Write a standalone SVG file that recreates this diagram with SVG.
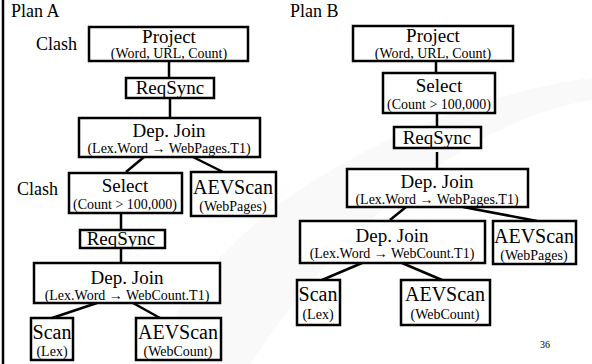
<svg xmlns="http://www.w3.org/2000/svg" width="592" height="364" viewBox="0 0 592 364">
<style>
.box{fill:#fff;stroke:#000;stroke-width:2.5}
.ln{stroke:#000;stroke-width:2.5;fill:none}
text{fill:#000;text-anchor:middle}
.t{font-size:19px}
.tb{font-size:20px}
.s{font-size:14px}
.lab{font-size:18px;text-anchor:start}
</style>
<rect x="0" y="0" width="592" height="364" fill="#fff"/>
<path d="M150,364 C200,250 300,170 460,110 C520,90 570,80 592,78 L592,100 C520,110 380,170 250,364 Z" fill="#f9f9f9"/>
<line x1="3" y1="0" x2="3" y2="364" stroke="#000" stroke-width="2.5"/>
<g font-family="'Liberation Serif', 'DejaVu Serif', 'Noto Serif', Times, serif">
<text class="lab" x="11" y="17">Plan A</text>
<text class="lab" x="290" y="17">Plan B</text>
<text class="lab" x="36" y="50">Clash</text>
<text class="lab" x="17" y="195">Clash</text>
<text x="545" y="348" style="font-size:10px">36</text>
<g id="connectors">
<line class="ln" x1="169" y1="61" x2="169" y2="78"/>
<line class="ln" x1="170" y1="98" x2="170" y2="118"/>
<line class="ln" x1="144" y1="157" x2="126" y2="172"/>
<line class="ln" x1="193" y1="157" x2="223" y2="172"/>
<line class="ln" x1="121" y1="213" x2="121" y2="230"/>
<line class="ln" x1="121" y1="248" x2="121" y2="263"/>
<line class="ln" x1="97" y1="303" x2="52" y2="318"/>
<line class="ln" x1="133" y1="303" x2="160" y2="318"/>
<line class="ln" x1="436" y1="61" x2="436" y2="73"/>
<line class="ln" x1="437" y1="113" x2="437" y2="126"/>
<line class="ln" x1="437" y1="152" x2="437" y2="169"/>
<line class="ln" x1="406" y1="207" x2="390" y2="220"/>
<line class="ln" x1="463" y1="207" x2="537" y2="221"/>
<line class="ln" x1="362" y1="263" x2="322" y2="280"/>
<line class="ln" x1="402" y1="263" x2="442" y2="280"/>
</g>
<g id="a_project"><rect class="box" x="89" y="27" width="159" height="34"/><text class="t" x="169" y="43">Project</text><text class="s" x="169" y="58">(Word, URL, Count)</text></g>
<g id="a_reqsync1"><rect class="box" x="126" y="78" width="88" height="20"/><text class="t" x="170" y="94">ReqSync</text></g>
<g id="a_depjoin1"><rect class="box" x="79" y="118" width="181" height="39"/><text class="t" x="169" y="137">Dep. Join</text><text class="s" x="169" y="153">(Lex.Word → WebPages.T1)</text></g>
<g id="a_select"><rect class="box" x="69" y="173" width="113" height="40"/><text class="t" x="125" y="192">Select</text><text class="s" x="125" y="209">(Count &gt; 100,000)</text></g>
<g id="a_aevscan1"><rect class="box" x="191" y="172" width="85" height="44"/><text class="tb" x="233" y="194">AEVScan</text><text class="s" x="233" y="211">(WebPages)</text></g>
<g id="a_reqsync2"><rect class="box" x="80" y="230" width="85" height="18"/><text class="t" x="121" y="245">ReqSync</text></g>
<g id="a_depjoin2"><rect class="box" x="34" y="263" width="186" height="40"/><text class="t" x="127" y="284">Dep. Join</text><text class="s" x="127" y="300">(Lex.Word → WebCount.T1)</text></g>
<g id="a_scan"><rect class="box" x="31" y="318" width="42" height="42"/><text class="tb" x="52" y="339">Scan</text><text class="s" x="52" y="356">(Lex)</text></g>
<g id="a_aevscan2"><rect class="box" x="136" y="318" width="85" height="42"/><text class="tb" x="178" y="339">AEVScan</text><text class="s" x="178" y="356">(WebCount)</text></g>
<g id="b_project"><rect class="box" x="353" y="26" width="160" height="35"/><text class="t" x="433" y="42">Project</text><text class="s" x="433" y="58">(Word, URL, Count)</text></g>
<g id="b_select"><rect class="box" x="383" y="73" width="112" height="40"/><text class="t" x="439" y="92">Select</text><text class="s" x="439" y="109">(Count &gt; 100,000)</text></g>
<g id="b_reqsync"><rect class="box" x="394" y="127" width="87" height="21"/><text class="t" x="437" y="144">ReqSync</text></g>
<g id="b_depjoin1"><rect class="box" x="347" y="169" width="181" height="38"/><text class="t" x="437" y="188">Dep. Join</text><text class="s" x="437" y="204">(Lex.Word → WebPages.T1)</text></g>
<g id="b_depjoin2"><rect class="box" x="300" y="221" width="185" height="42"/><text class="t" x="392" y="242">Dep. Join</text><text class="s" x="392" y="258">(Lex.Word → WebCount.T1)</text></g>
<g id="b_aevscan1"><rect class="box" x="493" y="221" width="83" height="43"/><text class="tb" x="534" y="243">AEVScan</text><text class="s" x="534" y="260">(WebPages)</text></g>
<g id="b_scan"><rect class="box" x="297" y="280" width="43" height="45"/><text class="tb" x="318" y="301">Scan</text><text class="s" x="318" y="319">(Lex)</text></g>
<g id="b_aevscan2"><rect class="box" x="401" y="280" width="89" height="45"/><text class="tb" x="445" y="301">AEVScan</text><text class="s" x="445" y="319">(WebCount)</text></g>
</g>
</svg>
